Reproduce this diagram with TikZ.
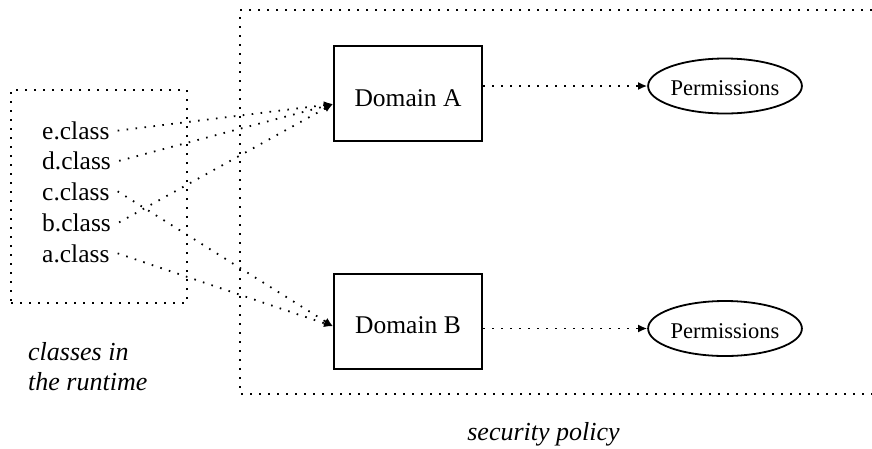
\documentclass[tikz,border=0pt]{standalone}
\usepackage{fontspec}
\setmainfont{Liberation Serif}
\usetikzlibrary{arrows.meta, shapes.geometric}

\begin{document}
\begin{tikzpicture}[x=1pt, y=-1pt,
    dots/.style={line width=1.8pt, dash pattern=on 1.6pt off 7.4pt},
    cls/.style={anchor=base west, inner xsep=8pt, inner ysep=0pt,
      font=\fontsize{25.5}{30}\selectfont},
    dombox/.style={draw, line width=2pt, minimum width=148pt, minimum height=95pt,
      inner sep=0pt, text height=25pt, text depth=0pt, font=\fontsize{25.5}{30}\selectfont},
    perm/.style={draw, ellipse, line width=1.8pt, minimum width=146pt, minimum height=55pt,
      inner sep=0pt, text height=19pt, text depth=0pt, font=\fontsize{22.5}{26}\selectfont},
    caption/.style={inner sep=0pt, font=\fontsize{26}{30}\selectfont\itshape},
    flow/.style={dots, -{Latex[length=9pt, width=8pt]}}]
  \useasboundingbox (0,0) rectangle (872,448);
  % runtime
  \node[draw, dots, minimum width=176pt, minimum height=213pt] (runtime) at (99,196.5) {};
  \node[cls] (e) at (34,139.3) {e.class};
  \node[cls] (d) at (34,169.5) {d.class};
  \node[cls] (c) at (34,200)   {c.class};
  \node[cls] (b) at (34,231)   {b.class};
  \node[cls] (a) at (34,262)   {a.class};
  \node[caption, align=left, anchor=base west] (rtcap) at (28,390) {classes in\\the runtime};
  % security policy
  \draw[dots] (872,10) -- (240,10) -- (240,394) -- (872,394);
  \node[dombox] (domA) at (408,93.5) {Domain A};
  \node[dombox] (domB) at (408,321)  {Domain B};
  \node[perm] (permA) at (725,86)    {Permissions};
  \node[perm] (permB) at (725,328.5) {Permissions};
  \node[caption, anchor=base] (polcap) at (543.5,440) {security policy};
  % class -> domain
  \draw[flow] (e.east) -- (domA.188);
  \draw[flow] (d.east) -- (domA.188);
  \draw[flow] (b.east) -- (domA.188);
  \draw[flow] (c.east) -- (domB.184);
  \draw[flow] (a.east) -- (domB.184);
  % domain -> permissions
  \draw[flow] (domA.east |- permA.west) -- (permA.west);
  \draw[flow] (domB.east |- permB.west) -- (permB.west);
\end{tikzpicture}
\end{document}
